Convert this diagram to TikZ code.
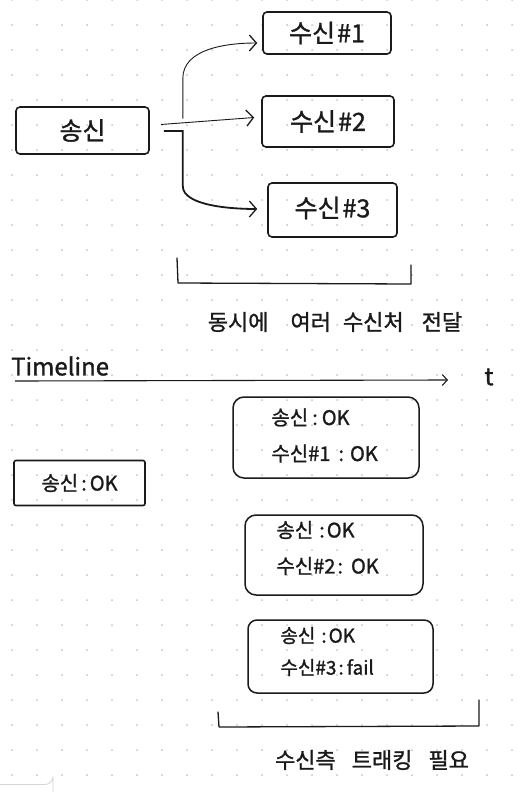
\documentclass[tikz,border=0pt]{standalone}
\usepackage{fontspec}
\setmainfont{Noto Sans CJK KR}[FakeBold=1.2]
\usetikzlibrary{arrows.meta}
\definecolor{dotc}{HTML}{C4C4C4}
\definecolor{ink}{HTML}{1A1A1A}
\definecolor{uigrey}{HTML}{D4D4D4}
\begin{document}
\begin{tikzpicture}[x=1pt,y=-1pt,
  box/.style={draw=ink, line width=1.6pt, rounded corners=4pt, inner sep=0pt, text=ink,
              font=\fontsize{25}{28}\selectfont},
  tbox/.style={draw=ink, line width=1.5pt, rounded corners=11pt, inner sep=0pt},
  tlbl/.style={text=ink, font=\fontsize{20}{36}\selectfont, align=left, inner sep=1pt, anchor=west},
  captext/.style={text=ink, font=\fontsize{22}{26}\selectfont, inner sep=1pt},
  chev/.style={draw=ink, -{Straight Barb[length=7pt,width=16pt,line width=1.3pt]}},
  chevs/.style={draw=ink, -{Straight Barb[length=5pt,width=11pt,line width=1.1pt]}},
  brk/.style={draw=ink, line width=1.3pt, line cap=round, line join=round},
  ]
\useasboundingbox (0,0) rectangle (520,792);
\fill[white] (0,0) rectangle (520,792);
% dot grid
\foreach \x in {12,37,...,512} {
  \foreach \y in {0,25,...,775} {
    \fill[dotc] (\x,\y) circle (1pt);
  }
}
% top diagram
\node[box, minimum width=133pt, minimum height=47pt] (snd) at (82.5,130.5) {송신};
\node[box, minimum width=128pt, minimum height=42pt] (r1) at (327,33) {수신\hspace{2pt}\#1};
\node[box, minimum width=132pt, minimum height=51pt] (r2) at (328,121.5) {수신\hspace{2pt}\#2};
\node[box, minimum width=129pt, minimum height=54pt] (r3) at (332.5,210) {\raisebox{6pt}{수신\hspace{2pt}\#3}};

\draw[chev, line width=0.9pt] ([shift={(33,-12)}]snd.east) -- ++(0,-40)
   .. controls +(0,-30) and +(-30,0) .. ([shift={(-5,10)}]r1.west);
\draw[chev, line width=0.9pt] ([shift={(11,-6)}]snd.east) -- ([shift={(-7,-4)}]r2.west);
\draw[chev, line width=1.8pt] ([shift={(14,0.5)}]snd.east) -- ++(19,0) -- ++(0,55)
   .. controls +(0,20) and +(-25,0) .. ([shift={(-10,-1)}]r3.west);

\draw[brk] (177,258) -- (178,283) -- (411,284) -- (411,265);
\node[captext] (cap1) at (335,322) {동시에\hspace{22pt}여러\hspace{12pt}수신처\hspace{18pt}전달};

% timeline
\node[text=ink, font=\fontsize{24}{26}\selectfont, inner sep=1pt, anchor=west] (tl) at (10,366) {Timeline};
\coordinate (tstart) at (15,381);
\coordinate (tend) at (448,380);
\node[text=ink, font=\fontsize{24}{26}\selectfont, inner sep=1pt] (tt) at (489,377) {t};
\draw[chevs, line width=1.1pt] (tstart) -- (tend);

% status boxes
\node[box, rounded corners=2pt, minimum width=131pt, minimum height=45pt,
      font=\fontsize{20}{24}\selectfont] (s0) at (79.5,483) {송신\hspace{3pt}:\hspace{3pt}OK};

\node[tbox, minimum width=186pt, minimum height=81pt] (b1) at (326,437.5) {};
\node[tlbl] (b1t) at ([shift={(38,-2)}]b1.west)
  {송신\hspace{4pt}:\hspace{4pt}OK\\수신\#1\hspace{8pt}:\hspace{6pt}OK};

\node[tbox, minimum width=178pt, minimum height=80pt] (b2) at (334,555) {};
\node[tlbl] (b2t) at ([shift={(31,-7)}]b2.west)
  {송신\hspace{6pt}:\hspace{2pt}OK\\수신\#2\hspace{2pt}:\hspace{8pt}OK};

\node[tbox, rounded corners=9pt, minimum width=185pt, minimum height=73pt] (b3) at (340.5,656.5) {};
\node[tlbl, font=\fontsize{19}{32}\selectfont] (b3t) at ([shift={(32,-5)}]b3.west)
  {송신\hspace{6pt}:\hspace{2pt}OK\\수신\#3\hspace{2pt}:\hspace{3pt}fail};

\draw[brk] (218,712) -- (219,727) -- (479,726) -- (479,700);
\node[captext] (cap2) at (372,760) {수신측\hspace{16pt}트래킹\hspace{16pt}필요};

% partial UI element at bottom-left
\draw[uigrey, line width=0.8pt] (0,784.5) -- (45,784.5) arc[start angle=90, end angle=0, radius=8] -- (53,792);
\end{tikzpicture}
\end{document}
